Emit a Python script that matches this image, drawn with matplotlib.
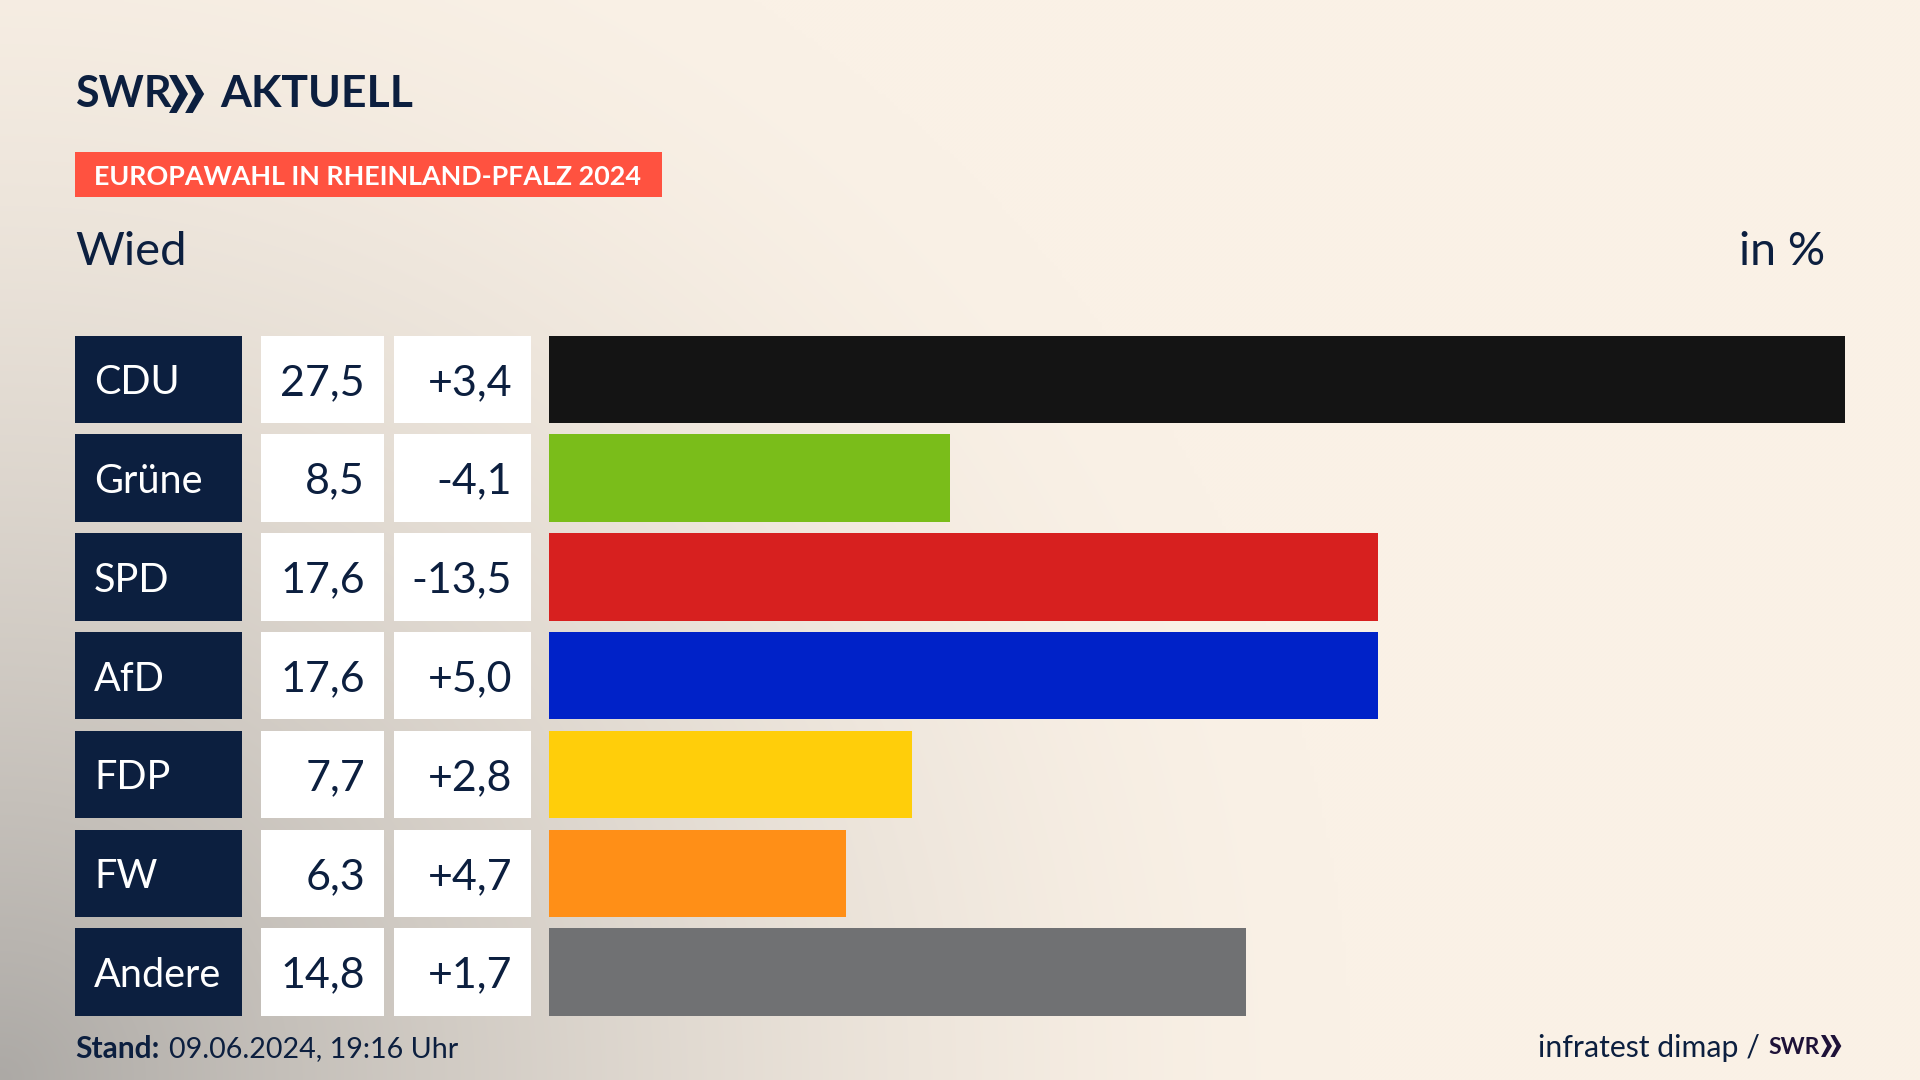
import numpy as np
import matplotlib
matplotlib.use("Agg")
import matplotlib.pyplot as plt
from matplotlib.patches import Polygon, Rectangle

parties = ["CDU", "Grüne", "SPD", "AfD", "FDP", "FW", "Andere"]
results = [27.5, 8.5, 17.6, 17.6, 7.7, 6.3, 14.8]
changes = [3.4, -4.1, -13.5, 5.0, 2.8, 4.7, 1.7]
colors = ["#141414", "#7ABD1A", "#D7201F", "#0022C8", "#FFCE0A", "#FF8F17", "#707173"]

NAVY = "#0C1F3F"
W, H = 1920, 1080
FONT = "Lato"

fig = plt.figure(figsize=(19.2, 10.8), dpi=100)

# full figure axes in pixels, for the background and the header
bg = fig.add_axes([0, 0, 1, 1])
bg.set_xlim(0, W)
bg.set_ylim(H, 0)
bg.axis("off")

# background: cream with a grey shade coming from the lower left corner
yy, xx = np.mgrid[0:H:270j, 0:W:480j]
d = np.sqrt((xx / 1350) ** 2 + ((H - yy) / 1300) ** 2)
shade = np.clip(1 - d, 0, 1) ** 1.6 * 0.66
cream = np.array([250, 241, 230]) / 255
grey = np.array([132, 132, 132]) / 255
img = cream[None, None, :] * (1 - shade[..., None]) + grey[None, None, :] * shade[..., None]
bg.imshow(img, extent=[0, W, H, 0], aspect="auto", zorder=0, interpolation="bilinear")


def chevrons(ax, x, y, h, color):
    # the two arrows of the SWR logo
    w = h * 0.5
    for off in [0, w * 0.85]:
        pts = [(x + off, y), (x + off + w * 0.4, y), (x + off + w, y + h / 2),
               (x + off + w * 0.4, y + h), (x + off, y + h), (x + off + w * 0.55, y + h / 2)]
        ax.add_patch(Polygon(pts, closed=True, color=color, lw=0, zorder=3))


# header
bg.text(75, 94, "SWR", family=FONT, weight="bold", fontsize=31, color=NAVY, va="center", ha="left")
chevrons(bg, 169, 75, 38, NAVY)
bg.text(220, 94, "AKTUELL", family=FONT, weight="bold", fontsize=32, color=NAVY, va="center", ha="left")

bg.add_patch(Rectangle((75, 152), 587, 45, color="#FF5240", lw=0))
bg.text(94, 177, "EUROPAWAHL IN RHEINLAND-PFALZ 2024", family=FONT, weight="bold", fontsize=19.4,
        color="white", va="center", ha="left")
bg.text(75, 252, "Wied", family=FONT, fontsize=34, color=NAVY, va="center", ha="left")
bg.text(1825, 252, "in %", family=FONT, fontsize=33.5, color=NAVY, va="center", ha="right")

# footer
bg.text(75, 1049, "Stand:", family=FONT, weight="bold", fontsize=21.5, color=NAVY, va="center", ha="left")
bg.text(169, 1049, "09.06.2024, 19:16 Uhr", family=FONT, fontsize=20.6, color=NAVY, va="center", ha="left")
bg.text(1760, 1048, "infratest dimap /", family=FONT, fontsize=21.8, color=NAVY, va="center", ha="right")
bg.text(1768, 1047, "SWR", family=FONT, weight="bold", fontsize=16.5, color="#1E1238", va="center", ha="left")
chevrons(bg, 1821, 1035, 22, "#1E1238")

# rows: one axes per column, all sharing the same vertical layout
top, bottom = 330.0, 1021.5


def column(x0, x1):
    ax = fig.add_axes([x0 / W, 1 - bottom / H, (x1 - x0) / W, (bottom - top) / H])
    ax.set_ylim(len(parties) - 0.5, -0.5)
    ax.axis("off")
    ax.patch.set_alpha(0)
    return ax


rows = range(len(parties))
bar_h = 0.885

ax_party = column(75, 242)
ax_party.set_xlim(0, 1)
ax_party.barh(rows, [1] * len(parties), height=bar_h, color=NAVY)

ax_val = column(261, 384)
ax_val.set_xlim(0, 1)
ax_val.barh(rows, [1] * len(parties), height=bar_h, color="white")

ax_diff = column(394, 531)
ax_diff.set_xlim(0, 1)
ax_diff.barh(rows, [1] * len(parties), height=bar_h, color="white")

ax_bar = column(549, 1845)
ax_bar.set_xlim(0, max(results))
ax_bar.barh(rows, results, height=bar_h, color=colors)

# text is set a bit below the row centre, like in the original
dy = 0.035
for i in rows:
    ax_party.text(19 / 167, i + dy, parties[i], family=FONT, fontsize=28.5, color="white", va="center", ha="left")
    ax_val.text(1 - 19 / 123, i + dy, f"{results[i]:.1f}".replace(".", ","), family=FONT, fontsize=31,
                color=NAVY, va="center", ha="right")
    ax_diff.text(1 - 19 / 137, i + dy, f"{changes[i]:+.1f}".replace(".", ","), family=FONT, fontsize=31,
                 color=NAVY, va="center", ha="right")

fig.savefig("out.png", dpi=100)
